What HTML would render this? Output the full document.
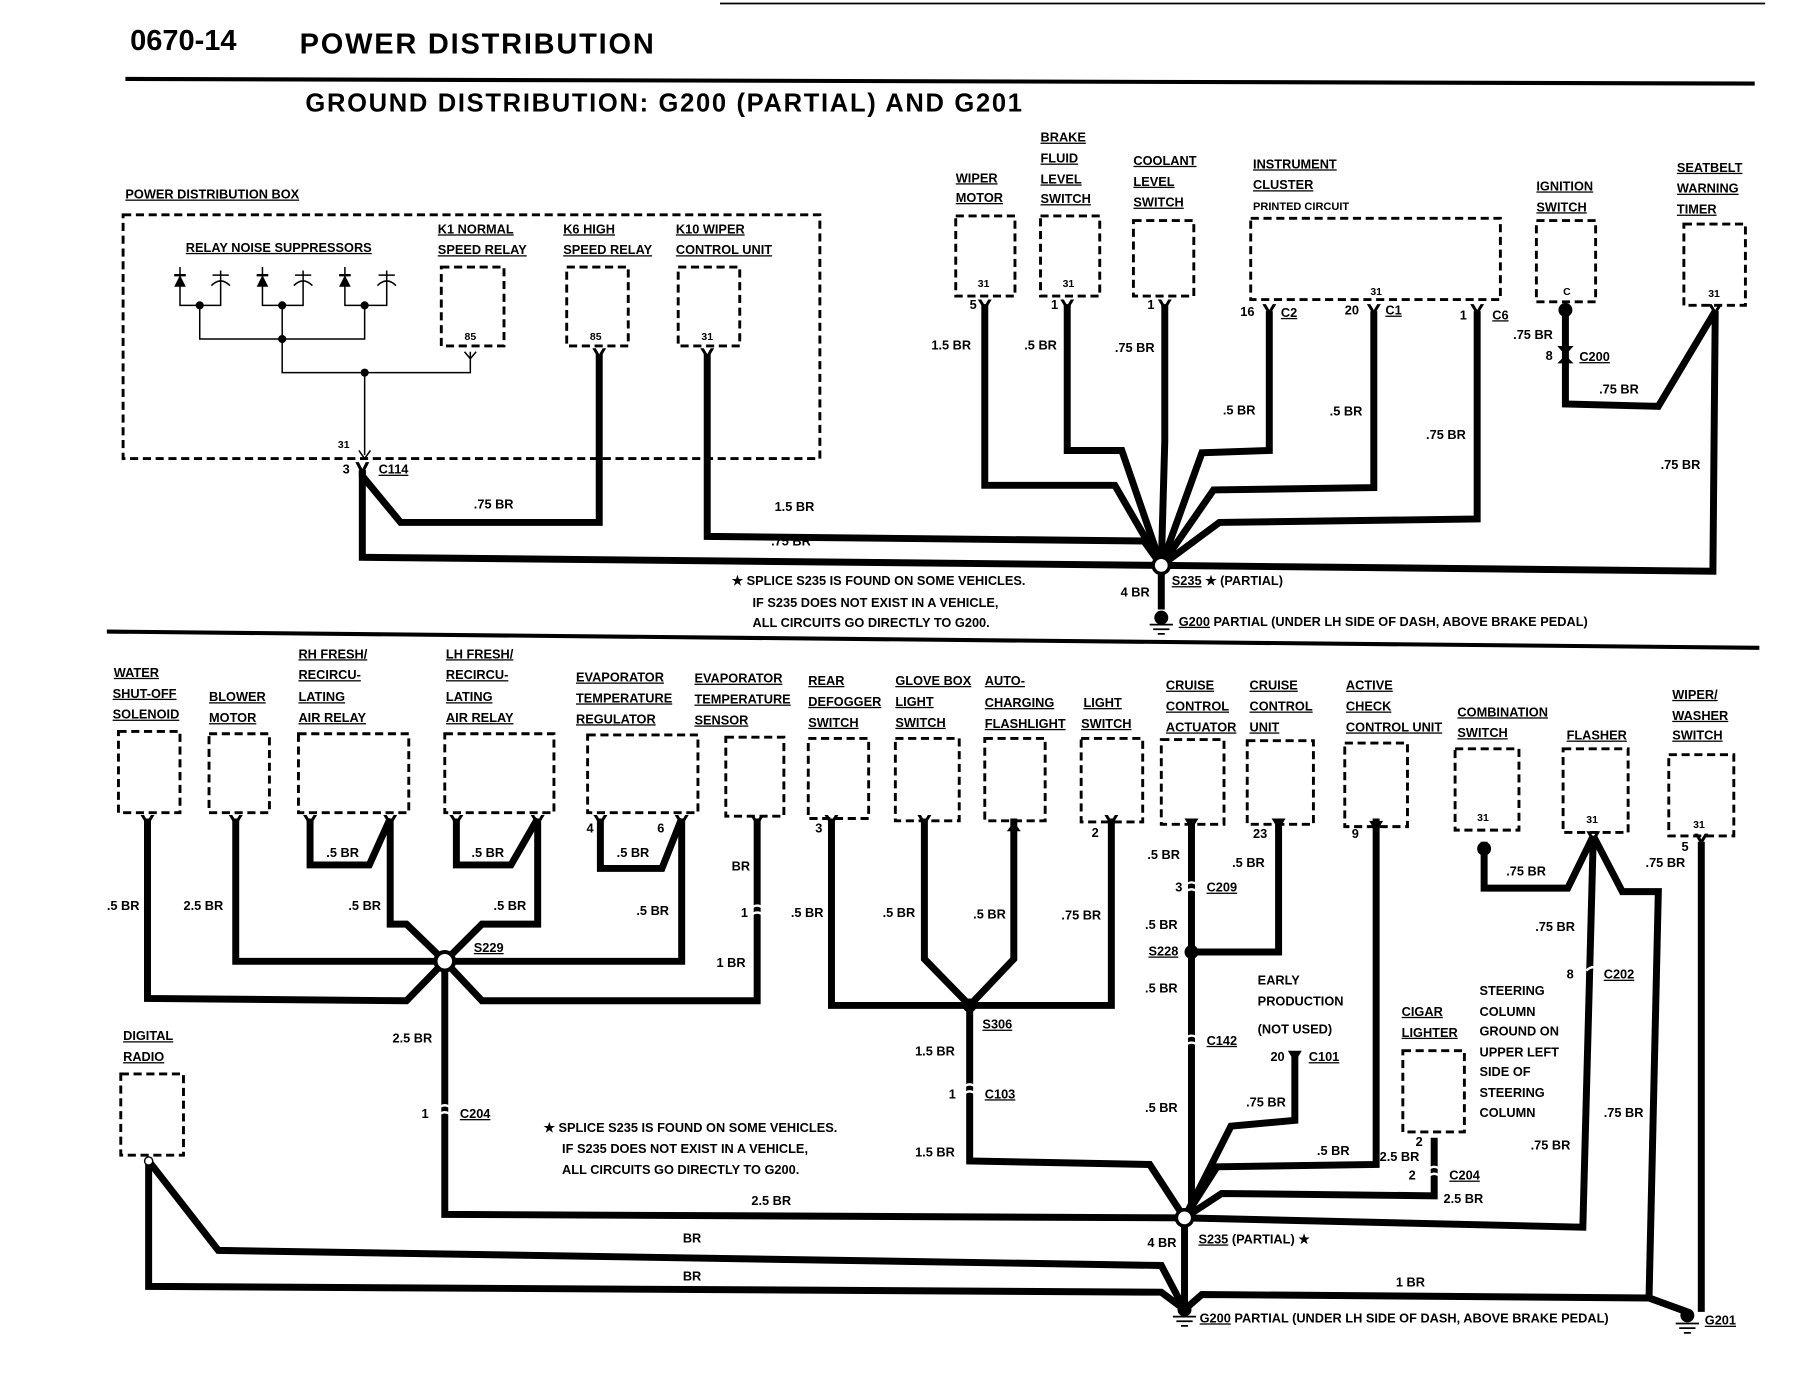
<!DOCTYPE html>
<html><head><meta charset="utf-8"><style>
html,body{margin:0;padding:0;background:#fff;}
svg{display:block}
text{font-family:"Liberation Sans",sans-serif;font-weight:bold;fill:#000;font-size:11px}
.w{fill:none;stroke:#000;stroke-width:6;stroke-linejoin:miter}
.t{fill:none;stroke:#000;stroke-width:1.3}
.b{fill:#fff;stroke:#000;stroke-width:2.5;stroke-dasharray:7 4}
.u{text-decoration:underline}
</style></head><body>
<svg width="1800" height="1399" viewBox="0 0 1550 1205" preserveAspectRatio="none" xmlns="http://www.w3.org/2000/svg">
<rect width="1550" height="1205" fill="#fff"/>
<line x1="620" y1="3" x2="1520" y2="3" stroke="#000" stroke-width="1.5"/>
<text x="112" y="43" style="font-size:25px">0670-14</text>
<text x="258" y="46" style="font-size:25px" textLength="305">POWER DISTRIBUTION</text>
<line x1="108" y1="68" x2="1511" y2="72" stroke="#000" stroke-width="3.5"/>
<text x="263" y="96" style="font-size:22px" textLength="617">GROUND DISTRIBUTION: G200 (PARTIAL) AND G201</text>

<!-- TOP SECTION -->
<text x="108" y="171" class="u">POWER DISTRIBUTION BOX</text>
<rect x="106" y="185" width="600" height="210" class="b"/>
<text x="160" y="217" class="u">RELAY NOISE SUPPRESSORS</text>
<text x="377" y="201" class="u">K1 NORMAL</text><text x="377" y="219" class="u">SPEED RELAY</text>
<text x="485" y="201" class="u">K6 HIGH</text><text x="485" y="219" class="u">SPEED RELAY</text>
<text x="582" y="201" class="u">K10 WIPER</text><text x="582" y="219" class="u">CONTROL UNIT</text>
<rect x="380" y="230" width="54" height="68" class="b"/><text x="400" y="293" style="font-size:9px">85</text>
<rect x="488" y="230" width="53" height="68" class="b"/><text x="508" y="293" style="font-size:9px">85</text>
<rect x="584" y="230" width="53" height="68" class="b"/><text x="604" y="293" style="font-size:9px">31</text>
<!-- suppressors -->
<g class="t">
<path d="M155,230 V263 H172 M190,233 V263 H172 M172,263 V292 H314 V263 M226,230 V263 H243 M261,233 V263 H243 M243,263 V321 H405 V303 M297,230 V263 H314 M333,233 V263 H314 M314,321 V392"/>
<path d="M183,237 H197 M254,237 H268 M326,237 H340"/>
<path d="M182,246 Q190,238 198,246 M253,246 Q261,238 269,246 M325,246 Q333,238 341,246"/>
<path d="M400,303 L405,309 L410,303"/>
</g>
<path d="M150,247 L155,237 L160,247 Z M221,247 L226,237 L231,247 Z M292,247 L297,237 L302,247 Z" fill="#000"/>
<path d="M150,237 H160 M221,237 H231 M292,237 H302" stroke="#000" stroke-width="2"/>
<g fill="#000"><circle cx="172" cy="263" r="3.5"/><circle cx="243" cy="263" r="3.5"/><circle cx="314" cy="263" r="3.5"/><circle cx="243" cy="292" r="3.5"/><circle cx="314" cy="321" r="3.5"/></g>
<path d="M309,388 L314,395 L319,388" class="t"/>
<text x="291" y="386" style="font-size:9px">31</text>
<text x="295" y="408">3</text><text x="326" y="408" class="u">C114</text>

<!-- top right boxes -->
<text x="823" y="157" class="u">WIPER</text><text x="823" y="174" class="u">MOTOR</text>
<text x="896" y="122" class="u">BRAKE</text><text x="896" y="140" class="u">FLUID</text><text x="896" y="158" class="u">LEVEL</text><text x="896" y="175" class="u">SWITCH</text>
<text x="976" y="142" class="u">COOLANT</text><text x="976" y="160" class="u">LEVEL</text><text x="976" y="178" class="u">SWITCH</text>
<text x="1079" y="145" class="u">INSTRUMENT</text><text x="1079" y="163" class="u">CLUSTER</text><text x="1079" y="181" style="font-size:9.5px">PRINTED CIRCUIT</text>
<text x="1323" y="164" class="u">IGNITION</text><text x="1323" y="182" class="u">SWITCH</text>
<text x="1444" y="148" class="u">SEATBELT</text><text x="1444" y="166" class="u">WARNING</text><text x="1444" y="184" class="u">TIMER</text>
<rect x="823" y="186" width="51" height="69" class="b"/><text x="842" y="247" style="font-size:9px">31</text>
<rect x="896" y="186" width="51" height="69" class="b"/><text x="915" y="247" style="font-size:9px">31</text>
<rect x="976" y="190" width="52" height="65" class="b"/>
<rect x="1077" y="188" width="215" height="70" class="b"/><text x="1180" y="254" style="font-size:9px">31</text>
<rect x="1323" y="190" width="51" height="70" class="b"/><text x="1346" y="254" style="font-size:9px">C</text>
<rect x="1450" y="193" width="53" height="70" class="b"/><text x="1471" y="256" style="font-size:9px">31</text>

<!-- top wires -->
<g class="w">
<path d="M312,405 L312,410 L345,450 L516,450 L516,305"/>
<path d="M312,405 L312,480 L1000,487"/>
<path d="M609,305 L609,462 L985,466 L1000,487"/>
<path d="M848,262 L848,418 L960,418 L1000,487"/>
<path d="M919,262 L919,388 L966,388 L1000,487"/>
<path d="M1003,262 L1003,380 L1000,487"/>
<path d="M1093,268 L1093,388 L1035,390 L1000,487"/>
<path d="M1183,268 L1183,420 L1045,422 L1000,487"/>
<path d="M1272,268 L1272,447 L1050,450 L1000,487"/>
<path d="M1477,268 L1475,492 L1000,487"/>
<path d="M1348,268 L1348,348 L1428,350 L1477,268"/>
<path d="M1000,487 L1000,525"/>
</g>
<g fill="#000">
<path d="M842,258 L848,268 L854,258 L851,258 L848,263 L845,258Z"/>
<path d="M913,258 L919,268 L925,258 L922,258 L919,263 L916,258Z"/>
<path d="M997,258 L1003,268 L1009,258 L1006,258 L1003,263 L1000,258Z"/>
<path d="M1087,262 L1093,272 L1099,262 L1096,262 L1093,267 L1090,262Z"/>
<path d="M1177,262 L1183,272 L1189,262 L1186,262 L1183,267 L1180,262Z"/>
<path d="M1266,262 L1272,272 L1278,262 L1275,262 L1272,267 L1269,262Z"/>
<path d="M1471,262 L1477,272 L1483,262 L1480,262 L1477,267 L1474,262Z"/>
<path d="M306,398 L312,410 L318,398 L315,398 L312,404 L309,398Z"/>
<path d="M510,300 L516,310 L522,300 L519,300 L516,305 L513,300Z"/>
<path d="M603,300 L609,310 L615,300 L612,300 L609,305 L606,300Z"/>
<circle cx="1348" cy="267" r="6"/>
<path d="M1341,298 L1348,306 L1355,298 M1341,313 L1348,306 L1355,313"/>
</g>
<circle cx="1000" cy="487" r="7" fill="#fff" stroke="#000" stroke-width="3"/>
<circle cx="1000" cy="532" r="6" fill="#000"/>
<path d="M990,538 H1010 M993,542 H1007 M997,546 H1003" stroke="#000" stroke-width="1.5"/>
<text x="835" y="266">5</text><text x="905" y="266">1</text><text x="988" y="266">1</text>
<text x="1068" y="272">16</text><text x="1103" y="273" class="u">C2</text>
<text x="1158" y="271">20</text><text x="1193" y="271" class="u">C1</text>
<text x="1257" y="275">1</text><text x="1285" y="275" class="u">C6</text>
<text x="1303" y="292">.75 BR</text><text x="1331" y="310">8</text><text x="1360" y="311" class="u">C200</text>
<text x="1377" y="339">.75 BR</text><text x="1430" y="404">.75 BR</text>
<text x="802" y="301">1.5 BR</text><text x="882" y="301">.5 BR</text><text x="960" y="303">.75 BR</text>
<text x="1053" y="357">.5 BR</text><text x="1145" y="358">.5 BR</text><text x="1228" y="378">.75 BR</text>
<text x="408" y="438">.75 BR</text><text x="667" y="440">1.5 BR</text><text x="664" y="470">.75 BR</text>
<text x="630" y="504">★ SPLICE S235 IS FOUND ON SOME VEHICLES.</text>
<text x="648" y="523">IF S235 DOES NOT EXIST IN A VEHICLE,</text>
<text x="648" y="540">ALL CIRCUITS GO DIRECTLY TO G200.</text>
<text x="965" y="514">4 BR</text>
<text x="1009" y="504"><tspan class="u">S235</tspan> ★ (PARTIAL)</text>
<text x="1015" y="539"><tspan class="u">G200</tspan> PARTIAL (UNDER LH SIDE OF DASH, ABOVE BRAKE PEDAL)</text>

<line x1="92" y1="544" x2="1515" y2="558" stroke="#000" stroke-width="3.5"/>

<!-- BOTTOM labels -->
<g>
<text x="98" y="583" class="u">WATER</text><text x="97" y="601" class="u">SHUT-OFF</text><text x="97" y="619" class="u">SOLENOID</text>
<text x="180" y="604" class="u">BLOWER</text><text x="180" y="622" class="u">MOTOR</text>
<text x="257" y="567" class="u">RH FRESH/</text><text x="257" y="585" class="u">RECIRCU-</text><text x="257" y="604" class="u">LATING</text><text x="257" y="622" class="u">AIR RELAY</text>
<text x="384" y="567" class="u">LH FRESH/</text><text x="384" y="585" class="u">RECIRCU-</text><text x="384" y="604" class="u">LATING</text><text x="384" y="622" class="u">AIR RELAY</text>
<text x="496" y="587" class="u">EVAPORATOR</text><text x="496" y="605" class="u">TEMPERATURE</text><text x="496" y="623" class="u">REGULATOR</text>
<text x="598" y="588" class="u">EVAPORATOR</text><text x="598" y="606" class="u">TEMPERATURE</text><text x="598" y="624" class="u">SENSOR</text>
<text x="696" y="590" class="u">REAR</text><text x="696" y="608" class="u">DEFOGGER</text><text x="696" y="626" class="u">SWITCH</text>
<text x="771" y="590" class="u">GLOVE BOX</text><text x="771" y="608" class="u">LIGHT</text><text x="771" y="626" class="u">SWITCH</text>
<text x="848" y="590" class="u">AUTO-</text><text x="848" y="609" class="u">CHARGING</text><text x="848" y="627" class="u">FLASHLIGHT</text>
<text x="933" y="609" class="u">LIGHT</text><text x="931" y="627" class="u">SWITCH</text>
<text x="1004" y="594" class="u">CRUISE</text><text x="1004" y="612" class="u">CONTROL</text><text x="1004" y="630" class="u">ACTUATOR</text>
<text x="1076" y="594" class="u">CRUISE</text><text x="1076" y="612" class="u">CONTROL</text><text x="1076" y="630" class="u">UNIT</text>
<text x="1159" y="594" class="u">ACTIVE</text><text x="1159" y="612" class="u">CHECK</text><text x="1159" y="630" class="u">CONTROL UNIT</text>
<text x="1255" y="617" class="u">COMBINATION</text><text x="1255" y="635" class="u">SWITCH</text>
<text x="1349" y="637" class="u">FLASHER</text>
<text x="1440" y="602" class="u">WIPER/</text><text x="1440" y="620" class="u">WASHER</text><text x="1440" y="637" class="u">SWITCH</text>
<text x="106" y="896" class="u">DIGITAL</text><text x="106" y="914" class="u">RADIO</text>
<text x="1207" y="875" class="u">CIGAR</text><text x="1207" y="893" class="u">LIGHTER</text>
</g>
<g>
<rect x="102" y="630" width="53" height="70" class="b"/>
<rect x="180" y="632" width="52" height="68" class="b"/>
<rect x="257" y="632" width="95" height="68" class="b"/>
<rect x="383" y="632" width="94" height="68" class="b"/>
<rect x="506" y="633" width="95" height="67" class="b"/>
<rect x="625" y="635" width="50" height="68" class="b"/>
<rect x="696" y="636" width="52" height="69" class="b"/>
<rect x="771" y="636" width="55" height="71" class="b"/>
<rect x="848" y="636" width="52" height="71" class="b"/>
<rect x="931" y="636" width="53" height="72" class="b"/>
<rect x="1000" y="637" width="54" height="73" class="b"/>
<rect x="1074" y="638" width="57" height="72" class="b"/>
<rect x="1158" y="640" width="54" height="72" class="b"/>
<rect x="1253" y="645" width="55" height="70" class="b"/><text x="1272" y="707" style="font-size:9px">31</text>
<rect x="1346" y="645" width="56" height="72" class="b"/><text x="1366" y="709" style="font-size:9px">31</text>
<rect x="1437" y="650" width="56" height="70" class="b"/><text x="1458" y="713" style="font-size:9px">31</text>
<rect x="104" y="925" width="54" height="70" class="b"/>
<rect x="1208" y="905" width="53" height="70" class="b"/>
</g>

<!-- bottom wires -->
<g class="w">
<path d="M127,705 L127,860 L350,862 L383,828"/>
<path d="M203,705 L203,828 L383,828"/>
<path d="M267,705 L267,745 L318,745 L336,705"/>
<path d="M336,705 L336,796 L350,796 L383,828"/>
<path d="M393,705 L393,745 L440,745 L463,705"/>
<path d="M463,705 L463,796 L415,796 L383,828"/>
<path d="M517,705 L517,748 L570,748 L587,705"/>
<path d="M587,705 L587,828 L383,828"/>
<path d="M652,705 L652,862 L415,862 L383,828"/>
<path d="M383,828 L383,1046 L1020,1049"/>
<path d="M716,705 L716,866 L835,866"/>
<path d="M796,705 L796,826 L835,866"/>
<path d="M873,705 L873,826 L835,866"/>
<path d="M957,705 L957,866 L835,866"/>
<path d="M835,866 L835,1000 L990,1003 L1020,1049"/>
<path d="M1026,705 L1026,1049"/>
<path d="M1101,705 L1101,820 L1026,820"/>
<path d="M1115,905 L1115,965 L1060,970 L1020,1049"/>
<path d="M1185,705 L1185,1003 L1048,1005 L1020,1049"/>
<path d="M1235,980 L1235,1030 L1052,1028 L1020,1049"/>
<path d="M1278,725 L1278,765 L1350,765 L1372,720"/>
<path d="M1372,720 L1363,1057 L1020,1049"/>
<path d="M1372,720 L1397,768 L1428,768 L1420,1118 L1453,1130"/>
<path d="M1465,725 L1465,1130"/>
<path d="M1020,1049 L1020,1128"/>
<path d="M128,1000 L188,1077 L1000,1090 L1020,1128"/>
<path d="M128,1000 L128,1108 L1000,1113 L1020,1128"/>
<path d="M1020,1128 L1035,1115 L1420,1118 L1453,1130"/>
</g>
<g fill="#000">
<path d="M121,702 L127,712 L133,702 L130,702 L127,707 L124,702Z"/>
<path d="M197,702 L203,712 L209,702 L206,702 L203,707 L200,702Z"/>
<path d="M261,702 L267,712 L273,702 L270,702 L267,707 L264,702Z"/>
<path d="M330,702 L336,712 L342,702 L339,702 L336,707 L333,702Z"/>
<path d="M387,702 L393,712 L399,702 L396,702 L393,707 L390,702Z"/>
<path d="M457,702 L463,712 L469,702 L466,702 L463,707 L460,702Z"/>
<path d="M511,702 L517,712 L523,702 L520,702 L517,707 L514,702Z"/>
<path d="M581,702 L587,712 L593,702 L590,702 L587,707 L584,702Z"/>
<path d="M646,702 L652,712 L658,702 L655,702 L652,707 L649,702Z"/>
<path d="M710,702 L716,712 L722,702 L719,702 L716,707 L713,702Z"/>
<path d="M790,702 L796,712 L802,702 L799,702 L796,707 L793,702Z"/>
<path d="M867,716 L873,708 L879,716Z"/>
<path d="M951,702 L957,712 L963,702 L960,702 L957,707 L954,702Z"/>
<path d="M1020,705 L1026,715 L1032,705 L1029,705 L1026,710 L1023,705Z"/>
<path d="M1095,705 L1101,715 L1107,705 L1104,705 L1101,710 L1098,705Z"/>
<path d="M1179,707 L1185,717 L1191,707 L1188,707 L1185,712 L1182,707Z"/>
<path d="M1366,716 L1372,726 L1378,716 L1375,716 L1372,721 L1369,716Z"/>
<path d="M1459,718 L1465,728 L1471,718 L1468,718 L1465,723 L1462,718Z"/>
<path d="M1109,905 L1115,915 L1121,905 L1118,905 L1115,910 L1112,905Z"/>
<circle cx="1278" cy="731" r="6"/>
<circle cx="1026" cy="820" r="6"/>
<circle cx="835" cy="866" r="6"/>
<circle cx="1020" cy="1128" r="6"/>
<circle cx="1453" cy="1133" r="6"/>
</g>
<circle cx="383" cy="828" r="8" fill="#fff" stroke="#000" stroke-width="3.5"/>
<circle cx="1020" cy="1049" r="7" fill="#fff" stroke="#000" stroke-width="3"/>
<circle cx="128" cy="1000" r="3.5" fill="#fff" stroke="#000" stroke-width="1.2"/>
<g stroke="#fff" stroke-width="2" fill="none">
<path d="M646,783 Q652,777 658,783 M646,789 Q652,783 658,789"/>
<path d="M377,955 Q383,949 389,955 M377,961 Q383,955 389,961"/>
<path d="M829,937 Q835,931 841,937 M829,943 Q835,937 841,943"/>
<path d="M1020,763 Q1026,757 1032,763 M1020,769 Q1026,763 1032,769"/>
<path d="M1020,895 Q1026,889 1032,895 M1020,901 Q1026,895 1032,901"/>
<path d="M1366,836 Q1372,830 1378,836"/>
<path d="M1229,1008 Q1235,1002 1241,1008 M1229,1014 Q1235,1008 1241,1014"/>
</g>
<path d="M1010,1134 H1030 M1013,1138 H1027 M1017,1142 H1023 M1443,1140 H1463 M1446,1144 H1460 M1450,1148 H1456" stroke="#000" stroke-width="1.5"/>

<!-- bottom wire labels -->
<g>
<text x="92" y="784">.5 BR</text><text x="158" y="784">2.5 BR</text>
<text x="281" y="738">.5 BR</text><text x="300" y="784">.5 BR</text>
<text x="406" y="738">.5 BR</text><text x="425" y="784">.5 BR</text>
<text x="531" y="738">.5 BR</text><text x="548" y="788">.5 BR</text>
<text x="505" y="717">4</text><text x="566" y="717">6</text>
<text x="630" y="750">BR</text><text x="638" y="790">1</text><text x="617" y="833">1 BR</text>
<text x="702" y="717">3</text><text x="681" y="790">.5 BR</text><text x="760" y="790">.5 BR</text><text x="838" y="791">.5 BR</text><text x="914" y="792">.75 BR</text>
<text x="940" y="721">2</text>
<text x="408" y="820" class="u">S229</text>
<text x="846" y="886" class="u">S306</text>
<text x="338" y="898">2.5 BR</text>
<text x="363" y="963">1</text><text x="396" y="963" class="u">C204</text>
<text x="788" y="909">1.5 BR</text>
<text x="817" y="946">1</text><text x="848" y="946" class="u">C103</text>
<text x="788" y="996">1.5 BR</text>
<text x="988" y="740">.5 BR</text><text x="1061" y="747">.5 BR</text><text x="1079" y="722">23</text><text x="1164" y="722">9</text>
<text x="1012" y="768">3</text><text x="1039" y="768" class="u">C209</text>
<text x="986" y="800">.5 BR</text><text x="989" y="823" class="u">S228</text>
<text x="986" y="855">.5 BR</text><text x="1039" y="900" class="u">C142</text>
<text x="986" y="958">.5 BR</text>
<text x="1083" y="848">EARLY</text><text x="1083" y="866">PRODUCTION</text><text x="1083" y="890">(NOT USED)</text>
<text x="1094" y="914">20</text><text x="1127" y="914" class="u">C101</text>
<text x="1073" y="953">.75 BR</text><text x="1134" y="995">.5 BR</text>
<text x="1219" y="987">2</text><text x="1188" y="1000">2.5 BR</text><text x="1213" y="1016">2</text><text x="1248" y="1016" class="u">C204</text><text x="1243" y="1036">2.5 BR</text>
<text x="1274" y="857">STEERING</text><text x="1274" y="875">COLUMN</text><text x="1274" y="892">GROUND ON</text><text x="1274" y="910">UPPER LEFT</text><text x="1274" y="927">SIDE OF</text><text x="1274" y="945">STEERING</text><text x="1274" y="962">COLUMN</text>
<text x="1297" y="754">.75 BR</text><text x="1322" y="802">.75 BR</text>
<text x="1349" y="843">8</text><text x="1381" y="843" class="u">C202</text>
<text x="1381" y="962">.75 BR</text><text x="1318" y="990">.75 BR</text>
<text x="1448" y="733">5</text><text x="1417" y="747">.75 BR</text>
<text x="468" y="975">★ SPLICE S235 IS FOUND ON SOME VEHICLES.</text>
<text x="484" y="993">IF S235 DOES NOT EXIST IN A VEHICLE,</text>
<text x="484" y="1011">ALL CIRCUITS GO DIRECTLY TO G200.</text>
<text x="647" y="1038">2.5 BR</text>
<text x="988" y="1074">4 BR</text>
<text x="1032" y="1071"><tspan class="u">S235</tspan> (PARTIAL) ★</text>
<text x="588" y="1070">BR</text><text x="588" y="1103">BR</text><text x="1202" y="1108">1 BR</text>
<text x="1033" y="1139"><tspan class="u">G200</tspan> PARTIAL (UNDER LH SIDE OF DASH, ABOVE BRAKE PEDAL)</text>
<text x="1468" y="1141" class="u">G201</text>
</g>
</svg>
</body></html>
